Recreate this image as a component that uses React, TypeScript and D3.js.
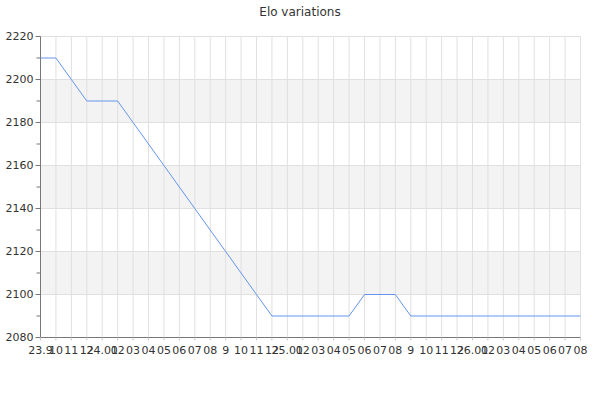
import * as d3 from "d3";

// monthly elo, Sep 2023 .. Aug 2026
const tickLabels = [
  "23.9", "10", "11", "12",
  "24.01", "02", "03", "04", "05", "06", "07", "08", "9", "10", "11", "12",
  "25.01", "02", "03", "04", "05", "06", "07", "08", "9", "10", "11", "12",
  "26.01", "02", "03", "04", "05", "06", "07", "08",
];

const eloValues = [
  2210, 2210, 2200, 2190, 2190, 2190, 2180, 2170, 2160, 2150, 2140, 2130,
  2120, 2110, 2100, 2090, 2090, 2090, 2090, 2090, 2090, 2100, 2100, 2100,
  2090, 2090, 2090, 2090, 2090, 2090, 2090, 2090, 2090, 2090, 2090, 2090,
];

const yTicks = [2080, 2100, 2120, 2140, 2160, 2180, 2200, 2220];
const yMinorTicks = d3.range(2090, 2220, 20);

const W = 600;
const H = 400;
const margin = { top: 36, right: 20, bottom: 63, left: 40 };
const font = "'DejaVu Sans', Verdana, sans-serif";

export default function App() {
  const x = d3
    .scaleLinear()
    .domain([0, eloValues.length - 1])
    .range([margin.left + 0.5, W - margin.right + 0.5]);
  const y = d3
    .scaleLinear()
    .domain([2080, 2220])
    .range([H - margin.bottom + 0.5, margin.top + 0.5]);

  const line = d3
    .line<number>()
    .x((_, i) => x(i))
    .y((d) => y(d));

  const x0 = x(0);
  const x1 = x(eloValues.length - 1);

  // gray bands on every other interval
  const bands = yTicks.slice(0, -1).filter((_, i) => i % 2 === 1);

  return (
    <svg
      width={W}
      height={H}
      style={{ position: "absolute", left: 0, top: 0, background: "#fff" }}
    >
      <text
        x={W / 2}
        y={16}
        textAnchor="middle"
        fontFamily={font}
        fontSize={12}
        fill="#333"
      >
        Elo variations
      </text>

      {bands.map((b) => (
        <rect
          key={b}
          x={x0}
          y={y(b + 20)}
          width={x1 - x0}
          height={y(b) - y(b + 20)}
          fill="#f3f3f3"
        />
      ))}

      {yTicks.map((t) => (
        <line key={"h" + t} x1={x0} x2={x1} y1={y(t)} y2={y(t)} stroke="#e0e0e0" />
      ))}
      {eloValues.map((_, i) => (
        <line key={"v" + i} x1={x(i)} x2={x(i)} y1={y(2220)} y2={y(2080)} stroke="#e0e0e0" />
      ))}

      {/* y axis */}
      <line x1={x0} x2={x0} y1={y(2220)} y2={y(2080)} stroke="#777" />
      {yTicks.map((t) => (
        <g key={"yt" + t}>
          <line x1={x0 - 5} x2={x0} y1={y(t)} y2={y(t)} stroke="#777" />
          <text
            x={x0 - 7}
            y={y(t)}
            dy="0.35em"
            textAnchor="end"
            fontFamily={font}
            fontSize={11}
            fill="#333"
          >
            {t}
          </text>
        </g>
      ))}
      {yMinorTicks.map((t) => (
        <line key={"ym" + t} x1={x0 - 4} x2={x0} y1={y(t)} y2={y(t)} stroke="#777" />
      ))}

      {/* x axis */}
      <line x1={x0} x2={x1} y1={y(2080)} y2={y(2080)} stroke="#777" />
      {tickLabels.map((lbl, i) => (
        <g key={"xt" + i}>
          <line x1={x(i)} x2={x(i)} y1={y(2080)} y2={y(2080) + 3} stroke="#ccc" />
          <text
            x={x(i)}
            y={y(2080) + 16}
            textAnchor="middle"
            fontFamily={font}
            fontSize={11}
            fill="#333"
          >
            {lbl}
          </text>
        </g>
      ))}

      <path d={line(eloValues) ?? ""} fill="none" stroke="#6495ed" strokeWidth={1} />
    </svg>
  );
}
